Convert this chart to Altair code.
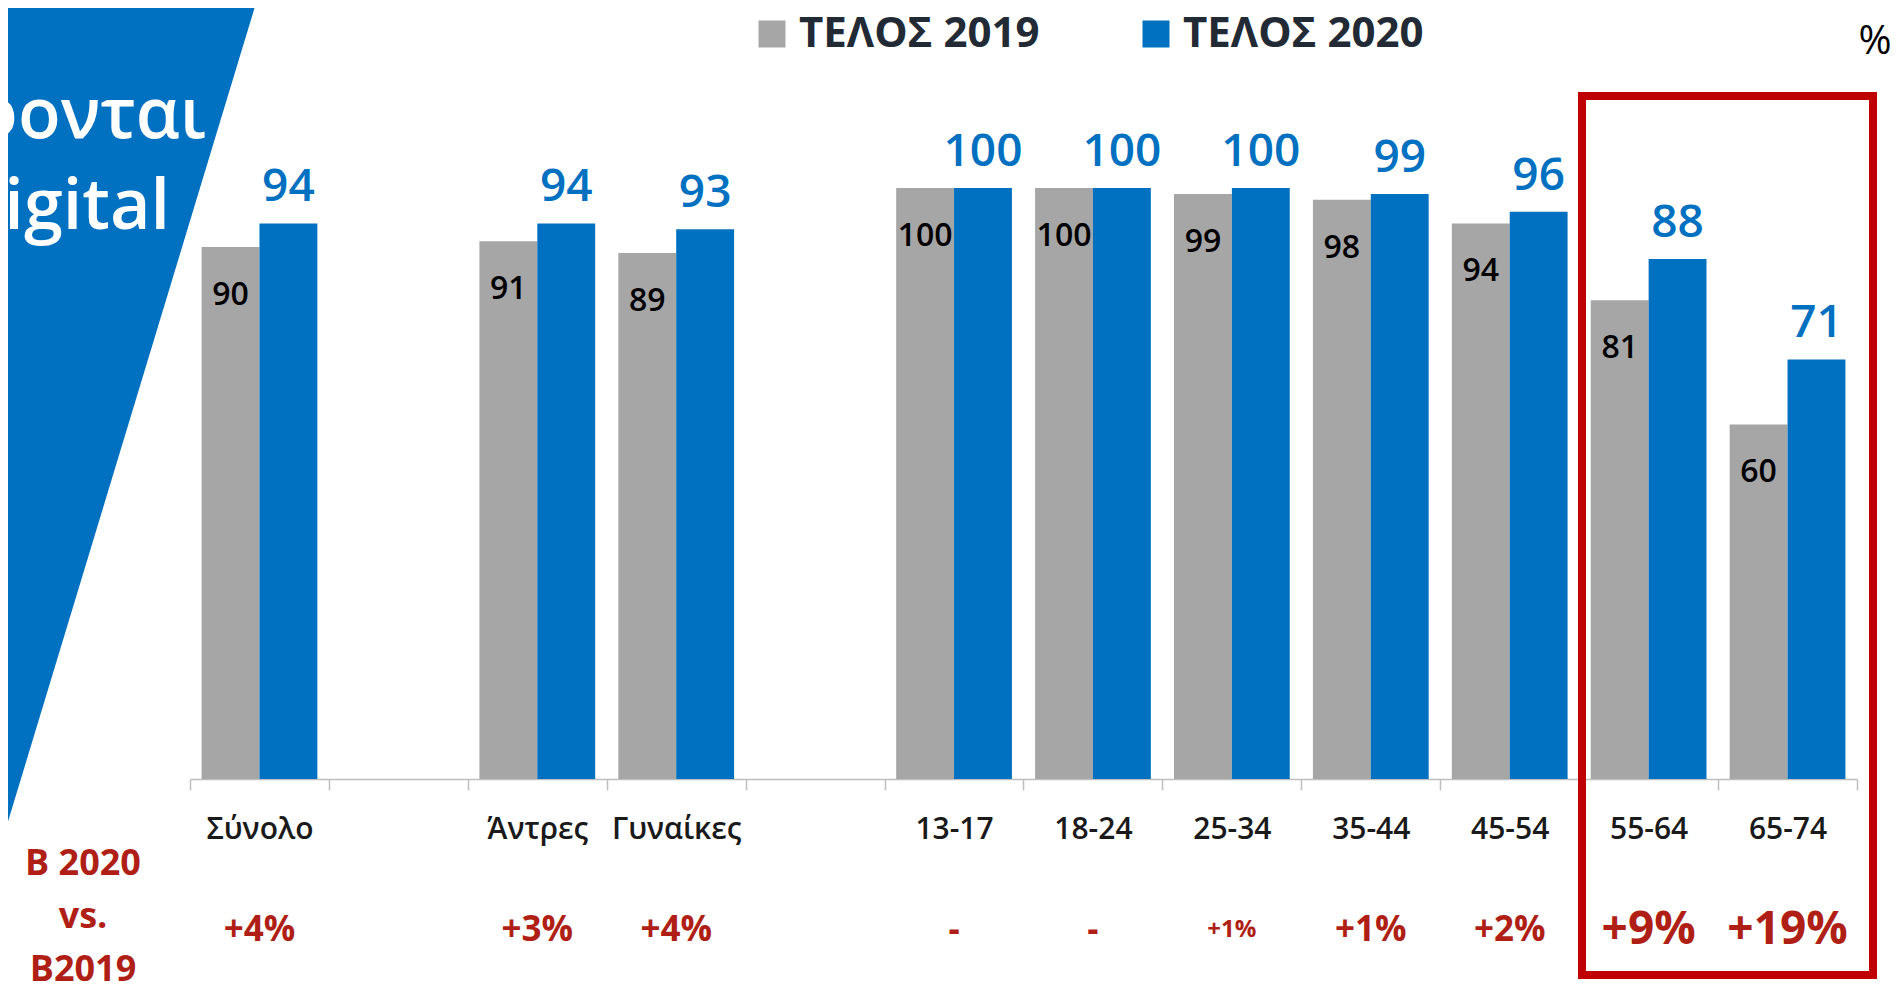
import altair as alt
import pandas as pd

# ---------------- data ----------------
categories = ["Σύνολο", "Άντρες", "Γυναίκες", "13-17", "18-24", "25-34",
              "35-44", "45-54", "55-64", "65-74"]
x_slots = ["Σύνολο", " ", "Άντρες", "Γυναίκες", "  ", "13-17", "18-24",
           "25-34", "35-44", "45-54", "55-64", "65-74"]
values_2019 = [90, 91, 89, 100, 100, 99, 98, 94, 81, 60]
values_2020 = [94, 94, 93, 100, 100, 100, 99, 96, 88, 71]
change_labels = ["+4%", "+3%", "+4%", "-", "-", "+1%", "+1%", "+2%", "+9%", "+19%"]
series = ["ΤΕΛΟΣ 2019", "ΤΕΛΟΣ 2020"]
side_label = "B 2020\nvs.\nB2019"
title_line1 = "Στρέφονται"
title_line2 = "στο digital"
unit_label = "%"

rows = []
for c, v19, v20 in zip(categories, values_2019, values_2020):
    rows.append({"cat": c, "series": series[0], "value": v19})
    rows.append({"cat": c, "series": series[1], "value": v20})
df = pd.DataFrame(rows)
df_change = pd.DataFrame({"cat": categories, "label": change_labels})

# ---------------- styling ----------------
W, H = 1667, 591
GRAY, BLUE = "#A6A6A6", "#0070C0"
RED_TXT, RED_BOX = "#AF1F16", "#C00000"
FONT = "Open Sans"

x_enc = alt.X(
    "cat:N",
    scale=alt.Scale(domain=x_slots, paddingInner=0, paddingOuter=0),
    axis=alt.Axis(
        title=None, labelAngle=0, tickBand="extent", ticks=True, tickSize=11,
        tickColor="#BFBFBF", tickWidth=1.5, domainColor="#BFBFBF", domainWidth=1.5,
        labelFont=FONT, labelFontSize=30, labelFontWeight=600, labelColor="#1A1A1A",
        labelBaseline="middle", labelPadding=39, labelOverlap=False, labelLimit=0,
        grid=False,
    ),
)
xoff_enc = alt.XOffset("series:N", scale=alt.Scale(domain=series, paddingInner=0, paddingOuter=0.2))
y_enc = alt.Y("value:Q", scale=alt.Scale(domain=[0, 100], nice=False), axis=None)

base = alt.Chart(df).encode(x=x_enc, xOffset=xoff_enc, y=y_enc)

bars = base.mark_bar().encode(
    color=alt.Color(
        "series:N",
        scale=alt.Scale(domain=series, range=[GRAY, BLUE]),
        legend=alt.Legend(
            orient="none", legendX=561, legendY=-175, direction="horizontal",
            title=None, symbolType="square", symbolSize=729, symbolStrokeWidth=0,
            symbolOpacity=1, labelFont=FONT, labelFontSize=42, labelFontWeight="bold",
            labelColor="#222A35", labelOffset=6, columnPadding=95, labelLimit=500,
        ),
    )
)

lab19 = base.transform_filter(alt.datum.series == series[0]).mark_text(
    baseline="middle", dy=48, font=FONT, fontSize=32, fontWeight=600, color="#000000"
).encode(text="value:Q")

lab20 = base.transform_filter(alt.datum.series == series[1]).mark_text(
    baseline="bottom", dy=-12, font=FONT, fontSize=46, fontWeight=600, color=BLUE
).encode(text="value:Q")

big = ["55-64", "65-74"]
small = ["25-34"]
ch_base = alt.Chart(df_change).encode(x=alt.X("cat:N"), y=alt.value(742), text="label:N")
ch_big = ch_base.transform_filter(alt.FieldOneOfPredicate(field="cat", oneOf=big)).mark_text(
    baseline="middle", font=FONT, fontSize=46, fontWeight="bold", color=RED_TXT)
ch_small = ch_base.transform_filter(alt.FieldOneOfPredicate(field="cat", oneOf=small)).mark_text(
    baseline="middle", font=FONT, fontSize=24, fontWeight="bold", color=RED_TXT)
ch_mid = ch_base.transform_filter(
    ~alt.FieldOneOfPredicate(field="cat", oneOf=big + small)).mark_text(
    baseline="middle", font=FONT, fontSize=35, fontWeight="bold", color=RED_TXT)

# decorative slide elements
one = pd.DataFrame({"k": [0]})
tri = alt.Chart(one).mark_point(
    shape="M-1,-1 L-0.394,-1 L-1,1 Z", filled=True, fill=BLUE, opacity=1, strokeWidth=0,
    size=848 * 848,
).encode(x=alt.value(234), y=alt.value(236))

t1 = alt.Chart(one).mark_text(
    align="right", baseline="alphabetic", font=FONT, fontSize=70, fontWeight=600, color="white"
).encode(x=alt.value(16), y=alt.value(-50), text=alt.value(title_line1))
t2 = alt.Chart(one).mark_text(
    align="right", baseline="alphabetic", font=FONT, fontSize=70, fontWeight=600, color="white"
).encode(x=alt.value(-20), y=alt.value(41), text=alt.value(title_line2))

side = alt.Chart(one).mark_text(
    align="center", baseline="middle", lineBreak="\n", lineHeight=53,
    font=FONT, fontSize=36, fontWeight="bold", color=RED_TXT,
).encode(x=alt.value(-107), y=alt.value(676), text=alt.value(side_label))

pct = alt.Chart(one).mark_text(
    align="center", baseline="middle", font=FONT, fontSize=40, color="#000000"
).encode(x=alt.value(1685), y=alt.value(-146), text=alt.value(unit_label))

box = alt.Chart(one).mark_rect(
    filled=False, stroke=RED_BOX, strokeWidth=8, fill=None
).encode(x=alt.value(1392), x2=alt.value(1683), y=alt.value(-92), y2=alt.value(787))

chart = alt.layer(
    tri, t1, t2, bars, lab19, lab20, ch_big, ch_small, ch_mid, side, pct, box
).properties(
    width=W, height=H,
    padding={"left": 182, "top": 180, "right": 36, "bottom": 215},
    autosize=alt.AutoSizeParams(type="none"),
    background="white",
).configure_view(stroke=None)

chart.save("out.html", embed_options={"renderer": "svg", "actions": False})
